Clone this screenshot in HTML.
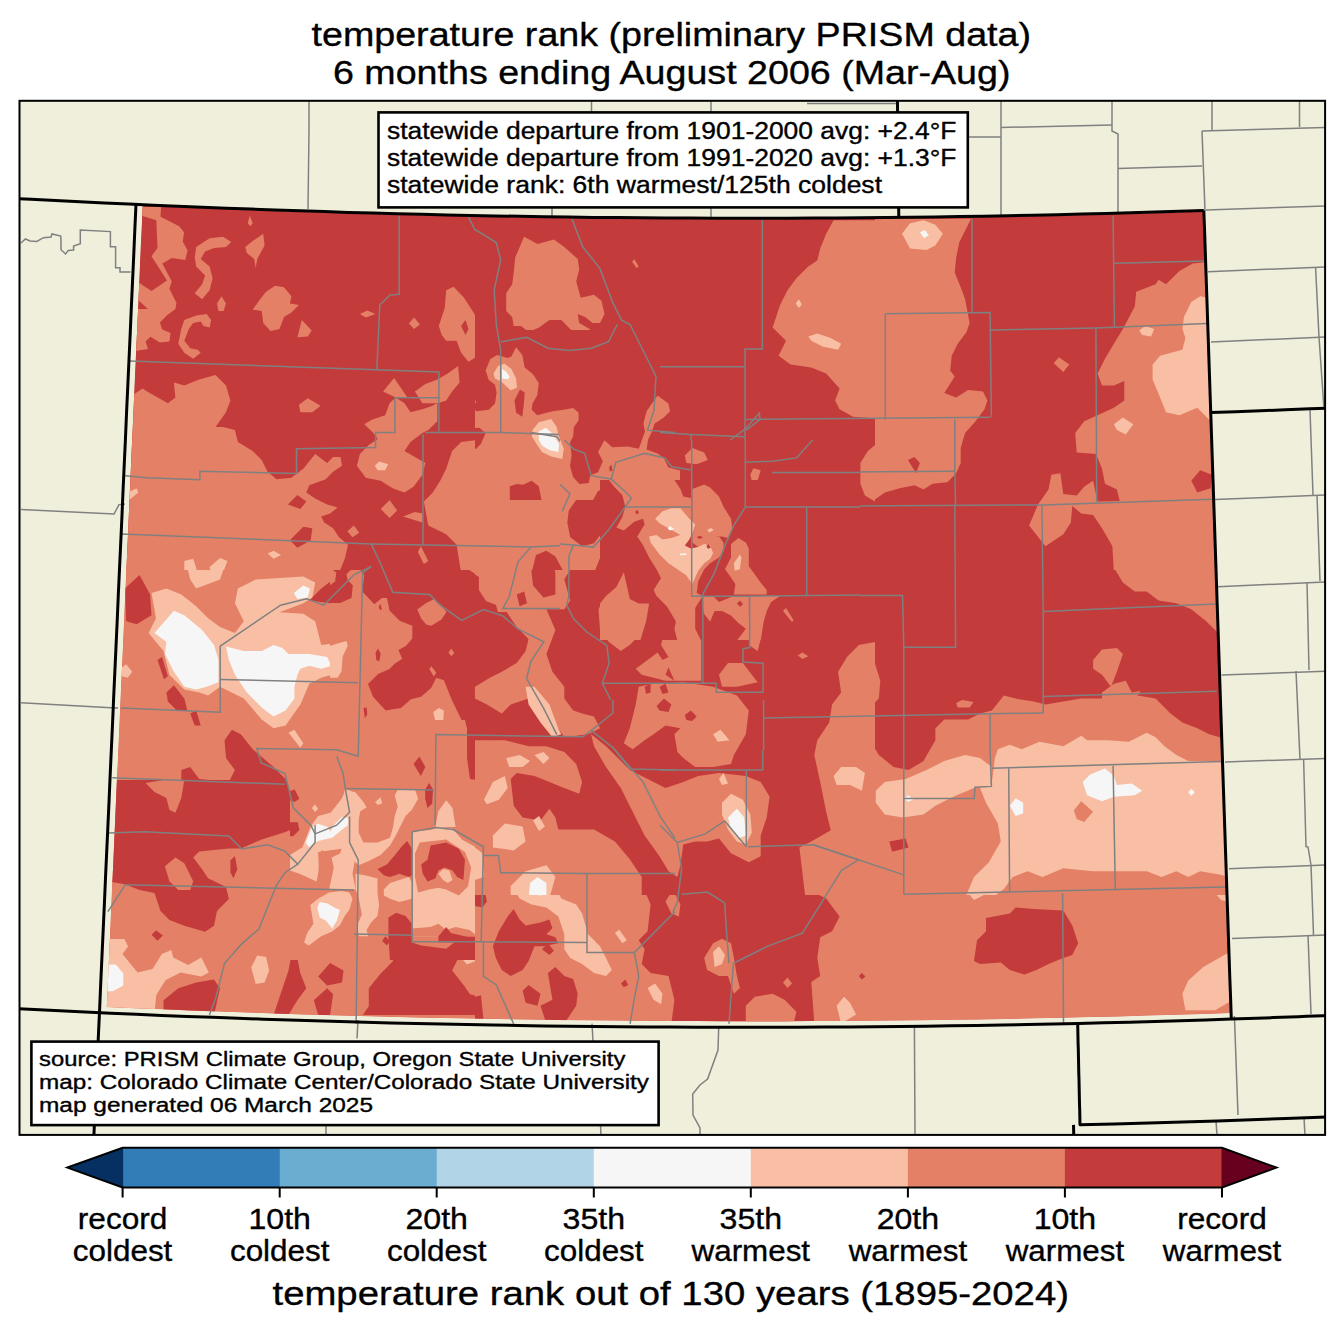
<!DOCTYPE html>
<html><head><meta charset="utf-8"><style>
html,body{margin:0;padding:0;background:#fff;width:1344px;height:1332px;overflow:hidden}
svg{display:block}
text{font-family:"Liberation Sans",sans-serif;fill:#000;stroke:#000;stroke-width:0.35px}
.t{font-size:33.6px}.b1{font-size:23px}.b2{font-size:20px}.tk{font-size:29.8px}
</style></head><body>
<svg width="1344" height="1332" viewBox="0 0 1344 1332">
<defs>
<clipPath id="fr"><rect x="19.5" y="100.8" width="1305.6" height="1034.1"/></clipPath>
<clipPath id="dp"><path d="M142.7 205.7 L169.2 206.9 L195.7 208 L222.2 209.1 L248.7 210.1 L275.3 211 L301.8 211.9 L328.3 212.8 L354.8 213.6 L381.4 214.3 L407.9 215 L434.4 215.6 L460.9 216.2 L487.5 216.8 L514 217.2 L540.5 217.7 L567.1 218.1 L593.6 218.4 L620.2 218.7 L646.7 218.9 L673.2 219.1 L699.8 219.2 L726.3 219.2 L752.8 219.2 L779.4 219.2 L805.9 219.1 L832.4 219 L859 218.8 L885.5 218.5 L912.1 218.2 L938.6 217.9 L965.1 217.5 L991.7 217 L1018.2 216.5 L1044.7 216 L1071.3 215.3 L1097.8 214.7 L1124.3 214 L1150.8 213.2 L1177.4 212.4 L1203.9 211.5 L1204.6 231.5 L1205.2 251.6 L1205.9 271.6 L1206.6 291.6 L1207.3 311.6 L1208 331.7 L1208.6 351.7 L1209.3 371.7 L1210 391.8 L1210.7 411.8 L1211.4 431.8 L1212 451.8 L1212.7 471.9 L1213.4 491.9 L1214.1 511.9 L1214.7 532 L1215.4 552 L1216.1 572 L1216.8 592.1 L1217.5 612.1 L1218.1 632.1 L1218.8 652.2 L1219.5 672.2 L1220.2 692.2 L1220.9 712.3 L1221.5 732.3 L1222.2 752.4 L1222.9 772.4 L1223.6 792.4 L1224.3 812.5 L1224.9 832.5 L1225.6 852.6 L1226.3 872.6 L1227 892.7 L1227.7 912.7 L1228.3 932.8 L1229 952.8 L1229.7 972.9 L1230.4 993 L1231 1013 L1203 1013.9 L1174.9 1014.8 L1146.7 1015.6 L1118.6 1016.4 L1090.5 1017.1 L1062.4 1017.7 L1034.3 1018.3 L1006.2 1018.9 L978.1 1019.4 L950 1019.8 L921.9 1020.2 L893.8 1020.5 L865.7 1020.7 L837.6 1020.9 L809.4 1021.1 L781.3 1021.2 L753.2 1021.2 L725.1 1021.2 L697 1021.1 L668.9 1021 L640.8 1020.8 L612.6 1020.6 L584.5 1020.3 L556.4 1020 L528.3 1019.6 L500.2 1019.1 L472.1 1018.6 L444 1018 L415.9 1017.4 L387.8 1016.7 L359.7 1016 L331.6 1015.2 L303.5 1014.4 L275.4 1013.5 L247.3 1012.5 L219.2 1011.5 L191.1 1010.4 L163 1009.3 L134.9 1008.2 L106.8 1006.9 L107.7 986.4 L108.7 965.8 L109.6 945.2 L110.5 924.7 L111.4 904.1 L112.3 883.6 L113.3 863 L114.2 842.4 L115.1 821.9 L116 801.3 L116.9 780.8 L117.9 760.2 L118.8 739.7 L119.7 719.2 L120.6 698.6 L121.5 678.1 L122.5 657.5 L123.4 637 L124.3 616.4 L125.2 595.9 L126.1 575.4 L127.1 554.8 L128 534.3 L128.9 513.8 L129.8 493.2 L130.7 472.7 L131.6 452.1 L132.6 431.6 L133.5 411.1 L134.4 390.5 L135.3 370 L136.2 349.5 L137.2 328.9 L138.1 308.4 L139 287.9 L139.9 267.3 L140.8 246.8 L141.8 226.3 L142.7 205.7 Z"/></clipPath><clipPath id="c_T1"><rect x="90" y="190" width="385" height="380"/></clipPath><clipPath id="c_T2"><rect x="475" y="190" width="400" height="140"/><rect x="680" y="330" width="195" height="170"/><rect x="475" y="500" width="400" height="70"/></clipPath><clipPath id="c_Z2a"><rect x="475" y="330" width="205" height="170"/></clipPath><clipPath id="c_T3"><rect x="875" y="190" width="385" height="380"/></clipPath><clipPath id="c_T4"><rect x="90" y="570" width="240" height="210"/><rect x="330" y="720" width="145" height="60"/></clipPath><clipPath id="c_T5"><rect x="475" y="570" width="400" height="325"/></clipPath><clipPath id="c_T6"><rect x="875" y="570" width="385" height="325"/></clipPath><clipPath id="c_B2"><rect x="475" y="895" width="400" height="140"/></clipPath><clipPath id="c_B3"><rect x="875" y="895" width="385" height="140"/></clipPath><clipPath id="c_B1"><rect x="90" y="780" width="200" height="255"/><rect x="290" y="960" width="185" height="75"/></clipPath><clipPath id="c_Z4"><rect x="290" y="780" width="185" height="180"/></clipPath><clipPath id="c_Z4b"><rect x="330" y="570" width="145" height="150"/></clipPath><clipPath id="c_Z5"><rect x="600" y="480" width="200" height="160"/></clipPath><clipPath id="cx"><path clip-rule="evenodd" d="M0 0H1344V1332H0Z M560 440H860V700H560Z"/></clipPath><clipPath id="ci"><path d="M560 440H860V700H560Z"/></clipPath>
</defs>
<rect x="19.5" y="100.8" width="1305.6" height="1034.1" fill="#efefdb"/>
<g clip-path="url(#dp)"><path fill="#c43b3c" d="M142.7 205.7 L169.2 206.9 L195.7 208 L222.2 209.1 L248.7 210.1 L275.3 211 L301.8 211.9 L328.3 212.8 L354.8 213.6 L381.4 214.3 L407.9 215 L434.4 215.6 L460.9 216.2 L487.5 216.8 L514 217.2 L540.5 217.7 L567.1 218.1 L593.6 218.4 L620.2 218.7 L646.7 218.9 L673.2 219.1 L699.8 219.2 L726.3 219.2 L752.8 219.2 L779.4 219.2 L805.9 219.1 L832.4 219 L859 218.8 L885.5 218.5 L912.1 218.2 L938.6 217.9 L965.1 217.5 L991.7 217 L1018.2 216.5 L1044.7 216 L1071.3 215.3 L1097.8 214.7 L1124.3 214 L1150.8 213.2 L1177.4 212.4 L1203.9 211.5 L1204.6 231.5 L1205.2 251.6 L1205.9 271.6 L1206.6 291.6 L1207.3 311.6 L1208 331.7 L1208.6 351.7 L1209.3 371.7 L1210 391.8 L1210.7 411.8 L1211.4 431.8 L1212 451.8 L1212.7 471.9 L1213.4 491.9 L1214.1 511.9 L1214.7 532 L1215.4 552 L1216.1 572 L1216.8 592.1 L1217.5 612.1 L1218.1 632.1 L1218.8 652.2 L1219.5 672.2 L1220.2 692.2 L1220.9 712.3 L1221.5 732.3 L1222.2 752.4 L1222.9 772.4 L1223.6 792.4 L1224.3 812.5 L1224.9 832.5 L1225.6 852.6 L1226.3 872.6 L1227 892.7 L1227.7 912.7 L1228.3 932.8 L1229 952.8 L1229.7 972.9 L1230.4 993 L1231 1013 L1203 1013.9 L1174.9 1014.8 L1146.7 1015.6 L1118.6 1016.4 L1090.5 1017.1 L1062.4 1017.7 L1034.3 1018.3 L1006.2 1018.9 L978.1 1019.4 L950 1019.8 L921.9 1020.2 L893.8 1020.5 L865.7 1020.7 L837.6 1020.9 L809.4 1021.1 L781.3 1021.2 L753.2 1021.2 L725.1 1021.2 L697 1021.1 L668.9 1021 L640.8 1020.8 L612.6 1020.6 L584.5 1020.3 L556.4 1020 L528.3 1019.6 L500.2 1019.1 L472.1 1018.6 L444 1018 L415.9 1017.4 L387.8 1016.7 L359.7 1016 L331.6 1015.2 L303.5 1014.4 L275.4 1013.5 L247.3 1012.5 L219.2 1011.5 L191.1 1010.4 L163 1009.3 L134.9 1008.2 L106.8 1006.9 L107.7 986.4 L108.7 965.8 L109.6 945.2 L110.5 924.7 L111.4 904.1 L112.3 883.6 L113.3 863 L114.2 842.4 L115.1 821.9 L116 801.3 L116.9 780.8 L117.9 760.2 L118.8 739.7 L119.7 719.2 L120.6 698.6 L121.5 678.1 L122.5 657.5 L123.4 637 L124.3 616.4 L125.2 595.9 L126.1 575.4 L127.1 554.8 L128 534.3 L128.9 513.8 L129.8 493.2 L130.7 472.7 L131.6 452.1 L132.6 431.6 L133.5 411.1 L134.4 390.5 L135.3 370 L136.2 349.5 L137.2 328.9 L138.1 308.4 L139 287.9 L139.9 267.3 L140.8 246.8 L141.8 226.3 L142.7 205.7 Z"/><g clip-path="url(#c_T1)"><rect x="90" y="190" width="385" height="380" fill="#c43b3c"/><path fill="#e48066" d="M141.7 206.9 L161.1 206.9 L160.5 216.7 L179.2 226.2 L184 232.2 L182.8 241.7 L187.6 250.4 L185.2 259.9 L171.8 258.1 L162.3 263.5 L171.8 281.6 L169.4 288.8 L176.5 303 L175.4 309 L167 315.2 L159.9 322.4 L162.3 329.5 L170.6 333.1 L169.4 341.4 L159.9 342.6 L150.4 336.7 L145.6 341.4 L148 348.9 L133.7 351.2 L133.7 309 L148 309 L133.7 295.9 L133.7 279.2 L151.5 291.1 L167 280.4 L151.5 256.3 L157.5 248 L156.3 220.3 L141.1 215.5 L133.7 212.9 Z"/><path fill="#e48066" d="M196.2 247.1 L209.6 238.2 L223 236.7 L231.3 242 L226 247.1 L214 248 L205.1 251.5 L200.7 259 L209.6 266.4 L212.6 278.3 L209.6 290.2 L202.1 299.2 L194.7 293.2 L202.1 284.3 L205.1 275.4 L196.2 266.4 L194.7 257.5 Z"/><path fill="#e48066" d="M245.3 247.1 L252.7 241.1 L263.2 233.7 L264.6 245.6 L257.2 259 L255.7 267.9 L254.2 259 L246.8 253 Z"/><path fill="#e48066" d="M247.7 223.3 L249.8 215.8 L252.7 223.3 L250.4 226.2 Z"/><path fill="#e48066" d="M184.3 320 L196.2 315.5 L206.6 314 L211.1 320 L209.6 327.4 L203.6 326 L200.7 321.5 L193.2 323 L188.8 328.9 L184.3 340.8 L190.2 348.3 L197.7 349.8 L200.7 352.7 L193.2 358.7 L184.3 352.7 L178.3 343.8 L181.3 328.9 Z"/><path fill="#e48066" d="M217 303.6 L221.5 296.2 L226 303.6 L223.6 311.1 L218.5 311.1 Z"/><path fill="#e48066" d="M252.7 309.6 L260.2 299.2 L266.1 291.7 L275.1 285.8 L284 287.3 L291.4 296.2 L289.9 303.6 L298.9 305.1 L291.4 312.6 L284 317 L279.5 328.9 L270.6 331 L263.2 323 L261.7 311.1 Z"/><path fill="#e48066" d="M297.4 337.3 L301.8 320 L311.7 330.4 L307.8 336.4 Z"/><path fill="#e48066" d="M359.9 314 L367.3 310.5 L375.4 314 L365.8 317.6 Z"/><path fill="#e48066" d="M438.8 326 L444.7 308.1 L446.2 290.2 L453.6 286.7 L464 297.7 L474.5 314 L480.4 328.9 L478.9 343.8 L476 357.2 L468.5 361.7 L461.1 352.7 L456.6 340.8 L446.2 340.8 L441.7 334.9 Z"/><path fill="#c43b3c" d="M461.1 326 L465.5 320 L468.5 328.9 L465.5 334.9 Z"/><path fill="#e48066" d="M409 323.6 L414 317.6 L420 324.5 L414 328.9 Z"/><path fill="#e48066" d="M124.8 400.4 L142.6 388.5 L147.1 391.4 L167.9 403.3 L175.4 397.4 L173.9 382.5 L184.3 385.5 L199.2 379.5 L215.5 375.1 L226 385.5 L230.4 400.4 L226 412.3 L215.5 427.1 L223 427.1 L234.9 430.1 L237.9 442 L252.7 451 L261.7 459.9 L267.6 471.8 L276.5 479.2 L291.4 477.7 L303.3 468.8 L315.2 453.9 L327.1 462.9 L333.1 456.9 L340.5 456.9 L342 465.8 L333.1 471.8 L325.7 479.2 L309.3 485.2 L306.3 492.6 L315.2 498.6 L327.1 504.5 L337.6 507.5 L330.1 513.5 L321.2 516.4 L324.2 522.4 L333.1 528.3 L339 537.3 L348 544.7 L345 558.1 L339 573 L118.8 573 Z"/><path fill="#c43b3c" d="M287.9 504.5 L297.4 495 L306.3 501.5 L300.4 509 Z"/><path fill="#c43b3c" d="M289.9 540.2 L303.3 526.8 L312.3 528.3 L310.8 540.2 L297.4 547.7 Z"/><path fill="#e48066" d="M364.3 424.2 L371.8 419.7 L385.2 415.2 L389.6 403.3 L395.6 397.4 L404.5 403.3 L410.5 412.3 L422.4 409.3 L431.3 406.3 L437.3 403.3 L437.3 421.2 L428.3 430.1 L422.4 433.1 L410.5 442 L404.5 451 L414.9 456.9 L425.4 462.9 L422.4 474.8 L413.5 486.7 L404.5 492.6 L392.6 488.2 L380.7 480.7 L365.8 477.7 L356.9 465.8 L359.9 453.9 L368.8 445 L377.7 439 L373.3 433.1 Z"/><path fill="#e48066" d="M383.1 391.4 L394.1 378 L407.5 397.4 L395.6 397.4 Z"/><path fill="#e48066" d="M414.9 391.4 L425.4 384 L437.3 379.5 L447.7 373.6 L458.1 366.1 L459.6 382.5 L452.1 391.4 L446.2 400.4 L437.3 403.3 L422.4 403.3 Z"/><path fill="#e48066" d="M452.1 451 L461.1 442 L484.9 439 L495 433.1 L495 573 L461.1 573 L456.6 544.7 L446.2 534.3 L428.3 525.4 L423.9 501.5 L432.8 492.6 L440.2 480.7 L446.2 468.8 Z"/><path fill="#f8bfa4" d="M127.7 492.6 L136.7 488.2 L138.2 492.6 L129.2 500.1 Z"/><path fill="#f8bfa4" d="M267.6 553.6 L273.6 550.7 L281 555.1 L273.6 558.7 Z"/><path fill="#f8bfa4" d="M184.3 561.1 L193.2 558.7 L197.7 573 L184.3 573 Z"/><path fill="#f8bfa4" d="M209.6 567 L220 558.1 L227.4 561.1 L223 573 L211.1 573 Z"/><path fill="#f8bfa4" d="M374.8 465.8 L379.2 461.4 L388.2 464.3 L385.2 470.3 L377.7 470.3 Z"/><path fill="#e48066" d="M298.9 404.8 L307.8 398.3 L320.6 405.7 L312.3 412.3 L300.4 412.3 Z"/><path fill="#e48066" d="M347.4 531.3 L353.9 525.4 L359.3 532.8 L352.4 537.3 Z"/><path fill="#e48066" d="M380.7 509 L389.6 500.1 L397.1 510.5 L389.6 517.9 Z"/><path fill="#e48066" d="M403 516.4 L414.9 512 L422.4 513.5 L422.4 522.4 Z"/><path fill="#e48066" d="M417.9 552.1 L420.9 546.2 L428.3 561.1 L423.9 564 Z"/></g><g clip-path="url(#c_T2)"><rect x="475" y="190" width="400" height="140" fill="#c43b3c"/><rect x="680" y="330" width="195" height="170" fill="#c43b3c"/><rect x="475" y="500" width="400" height="70" fill="#c43b3c"/><path fill="#e48066" d="M515.2 257.5 L524.1 236.7 L537.5 244.1 L553.9 239.6 L564.3 247.1 L577.7 259 L579.2 269.4 L576.2 281.3 L580.7 297.7 L594 294.7 L601.5 300.7 L604.5 314 L600 323 L592.6 323 L585.1 317 L577.7 314 L579.2 323 L589.6 328.9 L594 337.9 L595.5 346.8 L589.6 354.2 L583.6 349.8 L577.7 337.9 L570.2 328.9 L561.3 320 L549.4 320 L539 327.4 L528.6 331.9 L521.1 326 L513.7 326 L512.2 317 L506.2 311.1 L506.2 293.2 L512.2 284.3 L513.7 272.4 Z"/><path fill="#e48066" d="M833.6 220.3 L875 220.3 L875 418.2 L853 416.7 L839.6 409.3 L835.1 400.4 L839.6 388.5 L826.2 373.6 L811.3 367.6 L790.5 364.6 L778.6 355.7 L786 340.8 L772.6 327.4 L777.1 314 L780.1 305.1 L787.5 290.2 L796.4 278.3 L808.3 266.4 L817.3 260.5 L820.2 248.6 L826.2 233.7 Z"/><path fill="#f8bfa4" d="M808.3 336.4 L817.3 333.4 L830.7 337.9 L841.1 343.8 L838.1 349.8 L823.2 346.8 L811.3 340.8 Z"/><path fill="#f8bfa4" d="M795.8 303.6 L798.8 299.2 L801.8 304.5 L798.8 308.1 Z"/><path fill="#e48066" d="M875 445 L867.9 451 L860.4 462.9 L860.4 483.7 L864.9 495.6 L875 501.5 Z"/><path fill="#e48066" d="M632.1 262 L634.2 259 L638.7 266.4 L636.6 267.9 Z"/><path fill="#e48066" d="M684.8 455.4 L692.3 448 L704.2 452.4 L707.7 459.9 L696.7 464.3 L686.3 462.9 Z"/><path fill="#e48066" d="M750.3 474.8 L753.3 468.2 L760.7 470.3 L757.1 482.2 L751.8 480.7 Z"/><path fill="#e48066" d="M469 500.1 L680.4 500.1 L680.4 489.6 L689.3 480.7 L695.2 485.2 L710.1 485.2 L722 501.5 L731 519.4 L733.9 531.3 L728 541.7 L722 552.1 L716.1 573 L469 573 Z"/><path fill="#c43b3c" d="M568.8 510.5 L579.2 495.6 L600 489.6 L614.9 488.2 L622.3 498.6 L620.8 510.5 L614.9 522.4 L603 531.3 L594 543.2 L582.1 546.2 L570.2 537.3 L567.3 522.4 Z"/><path fill="#c43b3c" d="M531.5 573 L536 555.1 L546.4 550.7 L555.4 556.6 L564.3 573 Z"/><path fill="#c43b3c" d="M594 573 L606 543.2 L623.8 528.3 L641.7 525.4 L653.6 531.3 L656.5 546.2 L650.6 558.1 L647.6 573 Z"/><path fill="#f8bfa4" d="M653.6 525.4 L659.5 510.5 L674.4 497.1 L683.3 510.5 L693.8 522.4 L695.2 540.2 L689.3 552.1 L683.3 561.1 L668.5 561.1 L653.6 552.1 L647.6 537.3 Z"/><path fill="#f7f6f6" d="M667.9 528.3 L671.4 525.4 L675 529.8 L670.8 531.3 Z"/><path fill="#f8bfa4" d="M729.5 552.1 L736.9 540.2 L744.3 541.7 L750.3 555.1 L748.8 573 L731 573 Z"/></g><g clip-path="url(#c_Z2a)"><rect x="475" y="330" width="205" height="170" fill="#c43b3c"/><path fill="#e48066" d="M470 430 L470 501.9 L680 501.9 L680 470.6 L668.4 467.5 L663.8 458.1 L657.5 453.4 L646.6 449.5 L648.1 439.4 L652 431.6 L654.4 423.8 L663.8 417.5 L670 411.2 L668.4 403.4 L657.5 395.6 L646.6 411.2 L643.4 423.8 L645 431.6 L638.8 448.8 L627.8 446.4 L612.2 447.2 L604.4 440.2 L598.1 451.9 L602.8 461.2 L598.1 472.2 L590.3 475.3 L588.8 483.1 L579.4 483.9 L573.1 476.9 L570 465.9 L571.6 455 L570 442.5 L573.1 436.2 L573.9 426.9 L578.6 420.6 L578.6 412.8 L573.1 408.1 L563.8 409.7 L552.8 411.2 L543.4 413.6 L537.2 415.2 L531.7 409.7 L532.5 403.4 L537.2 395.6 L538.8 383.1 L532.5 373.8 L524.7 367.5 L522.3 355 L516.1 347.2 L511.4 356.6 L507.5 358.1 L497.3 355 L490.3 358.9 L485.6 370.6 L488.8 380 L495 384.7 L496.6 392.5 L495 403.4 L488.8 409.7 L476.2 411.2 L473.1 406.6 L476.2 401.9 L473.1 397.2 L470 398.8 Z"/><path fill="#c43b3c" d="M468.4 428.4 L479.4 427.7 L485.6 433.1 L480.9 444.1 L476.2 448.8 L468.4 448.8 Z"/><path fill="#c43b3c" d="M514.5 400.3 L520 389.4 L524.7 392.5 L523.9 403.4 L522.3 416.7 L516.1 412.8 Z"/><path fill="#c43b3c" d="M509.8 486.2 L516.9 483.9 L523.1 484.7 L531.7 480.8 L538.8 486.2 L541.9 501.9 L509.8 501.9 Z"/><path fill="#c43b3c" d="M591.9 501.9 L598.1 490.9 L607.5 487.8 L620 490.9 L623.1 501.9 Z"/><path fill="#c43b3c" d="M609.1 467.5 L611.4 464.4 L612.5 470.6 L609.8 471.4 Z"/><path fill="#f8bfa4" d="M493.4 373.8 L498.1 365.9 L504.4 363.6 L511.4 369.1 L516.1 378.4 L516.9 387.8 L510.6 390.2 L501.2 381.6 L495 378.4 Z"/><path fill="#f7f6f6" d="M502 369.1 L505.9 371.4 L509.8 376.9 L507.5 379.2 L502 378.4 Z"/><path fill="#f8bfa4" d="M532.5 430 L538.8 422.2 L551.2 419.1 L556.7 426.9 L558.3 434.7 L563.8 448.8 L562.2 458.9 L551.2 456.6 L541.9 451.9 L535.6 442.5 L531.7 436.2 Z"/><path fill="#f7f6f6" d="M538.8 431.6 L545.8 427.7 L552.8 433.9 L559.1 444.1 L558.3 451.9 L549.7 450.3 L541.9 445.6 L538.8 439.4 Z"/></g><g clip-path="url(#c_T3)"><rect x="875" y="190" width="385" height="380" fill="#c43b3c"/><path fill="#e48066" d="M849 218.8 L971.1 218.8 L966.6 227.7 L959.2 242.6 L956.2 257.5 L954.7 272.4 L960.7 287.3 L965.1 299.2 L969.6 323 L966.6 331.9 L957.7 343.8 L951.7 355.7 L950.2 370.6 L954.7 376.5 L944.3 392.9 L956.2 397.4 L968.1 389.9 L983 391.4 L987.4 400.4 L984.5 409.3 L975.5 421.2 L965.1 433.1 L960.7 448 L960.7 462.9 L956.2 473.3 L947.3 482.2 L932.4 483.7 L923.5 489.6 L914.5 485.2 L899.6 488.2 L884.8 492.6 L874.3 500.1 L863.9 492.6 L859.5 471.8 L861 453.9 L866.9 445 L874.3 430.1 L866.9 421.2 L849 418.2 Z"/><path fill="#c43b3c" d="M908 459.9 L914.5 456.9 L919.9 462.9 L916 473.3 Z"/><path fill="#f8bfa4" d="M902 233.7 L910.1 223.3 L923.5 220.3 L935.4 224.8 L942.8 233.7 L935.4 245.6 L926.4 250.1 L910.1 248.6 Z"/><path fill="#f7f6f6" d="M919.9 232.2 L924.9 230.1 L928.8 235.2 L924 238.2 Z"/><path fill="#e48066" d="M1122.9 328.9 L1134.8 306.6 L1136.2 291.7 L1155.6 284.3 L1158.6 279.8 L1166 284.3 L1179.4 270.9 L1192.8 263.5 L1207.7 262 L1221.1 262 L1227 498.6 L1119.9 501.5 L1116.9 489.6 L1105 483.7 L1102 468.8 L1096.1 453.9 L1076.7 452.4 L1075.2 433.1 L1084.2 421.2 L1097.6 415.2 L1113.9 407.8 L1124.3 400.4 L1124.3 381 L1113.9 385.5 L1102 385.5 L1097.6 373.6 L1105 358.7 L1113.9 343.8 Z"/><path fill="#c43b3c" d="M1191.3 480.7 L1200.2 470.3 L1212.1 474.8 L1210.7 488.2 L1197.3 492.6 Z"/><path fill="#f8bfa4" d="M1183.9 317 L1191.3 302.1 L1200.2 296.2 L1207.7 297.7 L1221.1 297.7 L1221.1 421.2 L1210.7 421.2 L1197.3 407.8 L1179.4 415.2 L1166 412.3 L1160.1 397.4 L1152.6 379.5 L1152.6 364.6 L1160.1 355.7 L1182.4 349.8 L1185.4 337.9 L1182.4 328.9 Z"/><path fill="#f8bfa4" d="M1139.2 330.4 L1145.2 326 L1154.1 328.9 L1151.1 336.4 L1142.2 334.9 Z"/><path fill="#f8bfa4" d="M1113.9 424.2 L1122.9 417.6 L1133.3 424.2 L1125.8 434.6 L1116.9 430.1 Z"/><path fill="#e48066" d="M1053.8 363.2 L1058.9 357.2 L1069.3 364.6 L1063.3 372.1 Z"/><path fill="#e48066" d="M1029.1 525.4 L1038 504.5 L1048.5 489.6 L1051.4 474.8 L1060.4 473.3 L1063.3 494.1 L1076.7 495.6 L1084.2 486.7 L1093.1 480.7 L1097.6 501.5 L1227 498.6 L1227 573 L1113.9 573 L1112.4 546.2 L1102 528.3 L1093.1 514.9 L1081.2 513.5 L1072.3 506 L1070.8 522.4 L1063.3 534.3 L1045.5 546.2 Z"/></g><g clip-path="url(#c_T4)"><rect x="90" y="570" width="240" height="210" fill="#e48066"/><rect x="330" y="720" width="145" height="60" fill="#e48066"/><path fill="#c43b3c" d="M324.2 520 L425.4 520 L425.4 537.9 L452.1 545.3 L449.2 564.6 L452.1 591.4 L467 609.3 L495 606.3 L495 656.9 L478.9 665.8 L473 685.2 L481.9 695.6 L495 704.5 L495 728.3 L484.9 734.3 L484.9 770 L478.9 780.4 L470 778.9 L467 758.1 L467 728.3 L462.6 710.5 L455.1 695.6 L452.1 674.8 L441.7 659.9 L431.3 653.9 L419.4 645 L413.5 627.1 L410.5 613.8 L392.6 606.3 L380.7 594.4 L362.9 573.6 L351 588.5 L330.1 603.3 L309.3 600.4 L321.2 588.5 L333.1 579.5 L336.1 564.6 L330.1 552.7 L321.2 537.9 Z"/><path fill="#e48066" d="M417.9 612.3 L426.8 601.8 L437.3 600.4 L443.2 609.3 L440.2 621.2 L428.3 624.2 L419.4 621.2 Z"/><path fill="#c43b3c" d="M368.8 680.7 L380.7 670.3 L392.6 661.4 L404.5 659.9 L419.4 645 L431.3 653.9 L435.8 671.8 L429.8 688.2 L416.4 695.6 L404.5 706 L388.2 710.5 L370.3 695.6 Z"/><path fill="#c43b3c" d="M376.2 653.9 L379.2 648 L382.8 655.4 L379.2 661.4 Z"/><path fill="#c43b3c" d="M124.8 588.5 L139.6 575.1 L150.1 594.4 L151.5 615.2 L136.7 624.2 L126.2 621.2 Z"/><path fill="#c43b3c" d="M166.4 692.6 L173.9 685.2 L184.3 698.6 L187.3 710.5 L176.8 710.5 L167.9 701.5 Z"/><path fill="#c43b3c" d="M190.2 713.5 L196.2 710.5 L200.7 725.4 L194.7 725.4 Z"/><path fill="#c43b3c" d="M157.5 659.9 L162 656.9 L167.9 676.2 L164 679.2 Z"/><path fill="#c43b3c" d="M224.5 740.2 L231.9 729.8 L240.8 734.3 L252.7 749.2 L273.6 767 L285.5 778.9 L297.4 787.9 L181.3 787.9 L181.3 770 L190.2 767 L199.2 778.9 L228.9 781.9 L234.9 770 L226 758.1 Z"/><path fill="#c43b3c" d="M413.5 764 L419.4 756.6 L425.4 767 L420.9 776 Z"/><path fill="#f8bfa4" d="M185.8 561.7 L196.2 560.2 L208.1 570.6 L220 558.7 L226 561.7 L220 579.5 L208.1 584 L196.2 588.5 L190.2 579.5 Z"/><path fill="#f8bfa4" d="M148.6 633.1 L156 618.2 L151.5 592.9 L166.4 588.5 L181.3 594.4 L196.2 606.3 L208.1 618.2 L220 627.1 L234.9 633.1 L243.8 621.2 L234.9 603.3 L237.9 588.5 L255.7 579.5 L279.5 578 L303.3 576.5 L315.2 582.5 L312.3 597.4 L303.3 603.3 L279.5 612.3 L303.3 613.8 L315.2 621.2 L321.2 645 L345 642 L348 656.9 L342 671.8 L321.2 677.7 L309.3 683.7 L300.4 704.5 L285.5 725.4 L273.6 728.3 L261.7 719.4 L243.8 698.6 L220 686.7 L208.1 695.6 L199.2 692.6 L184.3 689.6 L169.4 674.8 L163.5 651 Z"/><path fill="#f8bfa4" d="M288.5 732.8 L294.4 729.8 L303.3 743.2 L300.4 747.7 Z"/><path fill="#f8bfa4" d="M432.8 713.5 L437.3 707.5 L443.8 713.5 L438.8 719.4 Z"/><path fill="#f8bfa4" d="M120.3 668.8 L126.2 664.3 L132.2 671.8 L127.7 677.7 L121.8 676.2 Z"/><path fill="#f7f6f6" d="M154.5 633.1 L173.9 610.8 L184.3 615.2 L202.1 630.1 L214 645 L218.5 659.9 L218.5 682.2 L206.6 686.7 L196.2 689.6 L184.3 686.7 L173.9 671.8 L164.9 653.9 L166.4 642 Z"/><path fill="#f7f6f6" d="M226 646.5 L243.8 651 L261.7 651 L273.6 645 L282.5 648 L288.5 653.9 L309.3 653.9 L327.1 656.9 L331.6 665.8 L321.2 668.8 L309.3 665.8 L300.4 668.8 L297.4 674.8 L294.4 686.7 L294.4 698.6 L285.5 710.5 L273.6 716.4 L261.7 707.5 L246.8 692.6 L234.9 674.8 L228.9 659.9 Z"/><path fill="#f7f6f6" d="M293.8 592.9 L303.3 585.5 L309.9 588.5 L307.8 597.4 L297.4 598.9 Z"/></g><g clip-path="url(#c_T5)"><rect x="475" y="570" width="400" height="325" fill="#c43b3c"/><path fill="#e48066" d="M448.2 545.3 L530.1 546.8 L573.2 545.3 L577.7 549.8 L573.2 564.6 L564.3 579.5 L570.2 600.4 L564.3 609.3 L546.4 609.3 L504.8 612 L497.9 612 L496.1 605.1 L486 601 L478.9 589.9 L478.9 577.1 L467.9 570 L448.2 567.6 Z"/><path fill="#c43b3c" d="M530.1 558.7 L540.5 549.8 L552.4 552.7 L555.4 573.6 L555.4 594.4 L543.5 597.4 L533 585.5 Z"/><path fill="#c43b3c" d="M516.7 594.4 L524.1 591.4 L527.1 603.3 L519.6 606.3 Z"/><path fill="#e48066" d="M504.8 609.3 L546.4 609.3 L555.4 630.1 L546.4 653.9 L552.4 671.8 L564.3 686.7 L564.3 698.6 L573.2 710.5 L582.1 713.5 L594 716.4 L600 728.3 L588.1 734.3 L564.3 737.3 L558.3 728.3 L549.4 713.5 L540.5 704.5 L528.6 698.6 L510.7 704.5 L501.8 713.5 L486.9 704.5 L475 698.6 L475 686.7 L489.9 677.7 L501.8 671.8 L516.7 662.9 L525.6 651 L528.6 639 L516.7 627.1 Z"/><path fill="#f8bfa4" d="M525.6 686.7 L534.5 686.7 L549.4 704.5 L558.3 728.3 L561.3 734.3 L552.4 737.3 L540.5 722.4 L528.6 704.5 Z"/><path fill="#e48066" d="M475 740.2 L504.8 740.2 L528.6 746.2 L546.4 746.2 L564.3 752.1 L576.2 764 L582.1 781.9 L579.2 793.8 L564.3 787.9 L549.4 781.9 L534.5 776 L516.7 773 L510.7 778.9 L513.7 805.7 L522.6 817.6 L540.5 820.6 L549.4 808.7 L555.4 817.6 L558.3 829.5 L594 829.5 L614.9 841.4 L629.8 859.3 L641.7 877.1 L641.7 898 L475 898 Z"/><path fill="#f8bfa4" d="M506.2 758.1 L519.6 755.1 L530.1 761.1 L522.6 767 L509.2 767 Z"/><path fill="#f8bfa4" d="M483.9 799.8 L492.9 781.9 L504.8 776 L507.7 787.9 L498.8 799.8 L486.9 804.2 Z"/><path fill="#f8bfa4" d="M492.9 835.5 L504.8 823.6 L522.6 826.5 L525.6 841.4 L513.7 850.4 L492.9 847.4 Z"/><path fill="#f8bfa4" d="M510.7 886.1 L525.6 871.2 L546.4 865.2 L555.4 877.1 L549.4 898 L510.7 898 Z"/><path fill="#f8bfa4" d="M534.5 755.1 L543.5 752.1 L549.4 758.1 L543.5 764 Z"/><path fill="#f8bfa4" d="M533 820.6 L539 816.1 L544.9 826.5 L539 831 Z"/><path fill="#f8bfa4" d="M475 847.4 L482.4 853.3 L483.9 877.1 L475 880.1 Z"/><path fill="#f7f6f6" d="M530.1 883.1 L537.5 877.1 L546.4 883.1 L546.4 898 L528.6 898 Z"/><path fill="#e48066" d="M598.5 609.3 L606 594.4 L616.4 588.5 L620.8 573.6 L626.8 579.5 L629.8 597.4 L641.7 603.3 L649.1 603.3 L644.6 621.2 L638.7 636.1 L629.8 645 L620.8 651 L608.9 642 L600 630.1 Z"/><path fill="#e48066" d="M635.7 520 L695.2 520 L695.2 579.5 L683.3 588.5 L692.3 603.3 L701.2 624.2 L701.2 680.7 L665.5 680.7 L641.7 674.8 L635.7 668.8 L647.6 659.9 L659.5 651 L662.5 639 L677.4 636.1 L683.3 627.1 L668.5 609.3 L656.5 594.4 L653.6 573.6 L644.6 549.8 L638.7 534.9 Z"/><path fill="#f8bfa4" d="M647.6 537.9 L665.5 528.9 L683.3 520 L692.3 520 L692.3 549.8 L710.1 546.8 L707.1 561.7 L695.2 573.6 L683.3 567.6 L671.4 561.7 L659.5 552.7 Z"/><path fill="#c43b3c" d="M665.5 674.8 L668.5 667.3 L674.4 680.7 Z"/><path fill="#c43b3c" d="M656.5 651 L661 645 L668.5 656.9 L662.5 659.9 Z"/><path fill="#e48066" d="M701.2 597.4 L713.1 585.5 L725 555.7 L736.9 537.9 L748.8 540.8 L751.8 564.6 L763.7 591.4 L772.6 594.4 L701.2 595.9 Z"/><path fill="#f8bfa4" d="M733.9 564.6 L738.4 554.2 L741.4 561.7 L736.9 570.6 Z"/><path fill="#e48066" d="M707.1 606.3 L719 598.9 L742.9 600.4 L736.9 615.2 L713.1 618.2 Z"/><path fill="#e48066" d="M719 674.8 L728 662.9 L742.9 662.9 L751.8 674.8 L757.7 682.2 L736.9 686.7 L722 686.7 Z"/><path fill="#e48066" d="M757.7 600.4 L769.6 597.4 L768.2 615.2 L760.7 639 L757.7 651 L748.8 645 Z"/><path fill="#e48066" d="M784.5 609.3 L787.5 606.3 L793.5 619.7 L790.5 621.2 Z"/><path fill="#e48066" d="M797.9 655.4 L802.4 652.4 L808.3 656.3 L802.4 659 Z"/><path fill="#e48066" d="M638.7 686.7 L653.6 683.7 L683.3 682.2 L713.1 686.7 L736.9 695.6 L748.8 710.5 L745.8 734.3 L733.9 755.1 L731 764 L713.1 767 L695.2 767 L683.3 758.1 L677.4 752.1 L674.4 734.3 L680.4 728.3 L665.5 725.4 L653.6 734.3 L644.6 740.2 L632.7 749.2 L623.8 743.2 L629.8 728.3 L635.7 704.5 Z"/><path fill="#c43b3c" d="M656.5 706 L664 698.6 L671.4 704.5 L668.5 712 L659.5 710.5 Z"/><path fill="#c43b3c" d="M684.8 714.9 L690.8 710.5 L696.7 716.4 L692.3 720.9 L686.3 720 Z"/><path fill="#c43b3c" d="M644.6 686.7 L650.6 683.7 L650.6 692.6 L646.1 694.1 Z"/><path fill="#c43b3c" d="M659.5 686.7 L665.5 683.7 L668.5 692.6 L662.5 694.1 Z"/><path fill="#f8bfa4" d="M713.1 734.3 L720.5 729.8 L729.5 740.2 L717.6 741.7 Z"/><path fill="#e48066" d="M591.1 734.3 L606 746.2 L617.9 758.1 L629.8 770 L641.7 776 L653.6 781.9 L665.5 787.9 L683.3 781.9 L698.2 776 L719 773 L745.8 776 L760.7 781.9 L769.6 796.8 L766.7 817.6 L760.7 835.5 L760.7 856.3 L748.8 862.3 L731 853.3 L719 838.5 L707.1 841.4 L695.2 841.4 L683.3 844.4 L680.4 865.2 L677.4 877.1 L668.5 871.2 L659.5 856.3 L644.6 835.5 L632.7 811.7 L620.8 787.9 L606 767 L594 746.2 Z"/><path fill="#f8bfa4" d="M722 802.7 L731 793.8 L742.9 799.8 L750.3 814.6 L751.8 832.5 L745.8 844.4 L736.9 841.4 L728 829.5 L722 814.6 Z"/><path fill="#f7f6f6" d="M728 817.6 L736.9 808.7 L744.3 817.6 L745.8 835.5 L738.4 838.5 L731 829.5 Z"/><path fill="#f8bfa4" d="M719 778.9 L723.5 773 L728 783.4 L722 784.9 Z"/><path fill="#e48066" d="M838.1 671.8 L847 656.9 L858.9 645 L875 642 L875 859.3 L858.9 853.3 L844 847.4 L832.1 835.5 L826.2 811.7 L820.2 781.9 L814.3 755.1 L817.3 740.2 L829.2 722.4 L832.1 704.5 L841.1 692.6 Z"/><path fill="#f8bfa4" d="M833.6 776 L841.1 767 L856 767 L864.9 773 L861.9 790.8 L850 784.9 L836.6 784.9 Z"/><path fill="#e48066" d="M799.4 847.4 L811.3 841.4 L832.1 829.5 L875 847.4 L875 898 L805.4 898 Z"/></g><g clip-path="url(#c_T6)"><rect x="875" y="570" width="385" height="325" fill="#c43b3c"/><path fill="#e48066" d="M1030.6 520 L1075.2 520 L1063.3 537.9 L1048.5 546.8 L1033.6 534.9 Z"/><path fill="#e48066" d="M1096.1 520 L1230 520 L1230 636.1 L1218.1 633.1 L1206.2 621.2 L1191.3 609.3 L1176.4 603.3 L1158.6 600.4 L1146.7 591.4 L1134.8 591.4 L1122.9 582.5 L1113.9 567.6 L1111 549.8 L1102 534.9 Z"/><path fill="#e48066" d="M855 645 L869.9 643.5 L872.9 656.9 L880.3 680.7 L878.8 698.6 L866.9 710.5 L855 716.4 Z"/><path fill="#e48066" d="M1093.1 659.9 L1102 649.5 L1116.9 648 L1122.9 653.9 L1116.9 671.8 L1111 686.7 L1102 674.8 L1093.1 668.8 Z"/><path fill="#e48066" d="M1102 692.6 L1113.9 683.7 L1125.8 680.7 L1131.8 692.6 L1140.7 691.1 L1134.8 698.6 L1102 701.5 Z"/><path fill="#e48066" d="M956.2 703 L962.1 700.1 L973.5 702.1 L969.6 707.5 L957.7 707.5 Z"/><path fill="#e48066" d="M855 728.3 L866.9 734.3 L878.8 755.1 L893.7 767 L908.6 770 L923.5 761.1 L935.4 740.2 L935.4 728.3 L944.3 719.4 L968.1 719.4 L980 713.5 L991.9 710.5 L1003.8 695.6 L1015.7 698.6 L1033.6 701.5 L1045.5 704.5 L1063.3 701.5 L1081.2 698.6 L1102 698.6 L1137.7 695.6 L1155.6 698.6 L1170.5 713.5 L1182.4 722.4 L1197.3 728.3 L1209.2 734.3 L1230 740.2 L1230 898 L855 898 Z"/><path fill="#f8bfa4" d="M994.9 758.1 L997.9 749.2 L1009.8 744.7 L1021.7 749.2 L1039.5 741.7 L1063.3 746.2 L1081.2 735.8 L1087.1 740.2 L1108 740.2 L1128.8 741.7 L1146.7 732.8 L1155.6 737.3 L1164.5 746.2 L1176.4 755.1 L1188.3 761.1 L1212.1 761.1 L1230 764 L1230 877.1 L1218.1 874.2 L1200.2 871.2 L1188.3 877.1 L1176.4 871.2 L1161.5 877.1 L1146.7 871.2 L1122.9 871.2 L1093.1 871.2 L1063.3 868.2 L1042.5 877.1 L1027.6 871.2 L1012.7 877.1 L1003.8 889 L991.9 898 L965.1 898 L974 877.1 L988.9 862.3 L1000.8 841.4 L997.9 823.6 L986 802.7 L980 787.9 L991.9 781.9 Z"/><path fill="#f8bfa4" d="M875.8 790.8 L884.8 781.9 L905.6 778.9 L926.4 770 L944.3 761.1 L965.1 755.1 L980 758.1 L991.9 767 L990.4 784.9 L974 787.9 L953.2 796.8 L935.4 805.7 L923.5 814.6 L902.6 817.6 L884.8 814.6 L875.8 802.7 Z"/><path fill="#f8bfa4" d="M855 770 L862.4 768.5 L865.4 778.9 L861 789.3 L855 787.9 Z"/><path fill="#f7f6f6" d="M1082.7 781.9 L1090.1 774.5 L1105 768.5 L1113.9 776 L1116.9 784.9 L1131.8 783.4 L1142.2 790.8 L1134.8 795.3 L1113.9 796.8 L1102 801.2 L1087.1 795.3 Z"/><path fill="#f7f6f6" d="M1009.8 805.7 L1015.7 798.3 L1023.2 802.7 L1023.2 813.2 L1015.7 816.1 Z"/><path fill="#f7f6f6" d="M1188.3 792.3 L1191.3 788.8 L1194.9 792.3 L1191.3 795.9 Z"/><path fill="#f7f6f6" d="M904.1 798.3 L908.6 795.3 L913 799.8 L908 801.8 Z"/><path fill="#e48066" d="M1073.8 810.2 L1081.2 801.2 L1093.1 811.7 L1084.2 822.1 L1076.7 819.1 Z"/><path fill="#c43b3c" d="M889.2 841.4 L905.6 838.5 L908.6 847.4 L892.2 851.8 Z"/></g><g clip-path="url(#c_B2)"><rect x="475" y="895" width="400" height="140" fill="#e48066"/><path fill="#c43b3c" d="M614.9 845 L683.3 845 L754.8 845 L760.7 856.9 L769.6 853.9 L787.5 848 L808.3 848 L805.4 871.8 L814.3 892.6 L826.2 898.6 L839.6 916.4 L832.1 931.3 L820.2 937.3 L817.3 958.1 L820.2 976 L811.3 981.9 L814.3 1023.6 L671.4 1023.6 L674.4 999.8 L668.5 976 L650.6 973 L641.7 964 L644.6 949.2 L638.7 940.2 L647.6 931.3 L650.6 904.5 L641.7 883.7 L635.7 862.9 Z"/><path fill="#e48066" d="M704.2 958.1 L713.1 943.2 L722 938.8 L731 943.2 L733.9 958.1 L736.9 976 L739.9 987.9 L733.9 993.8 L728 976 L719 976 L707.1 970 Z"/><path fill="#f8bfa4" d="M713.1 952.1 L719 946.2 L725 955.1 L722 964 L714.6 967 Z"/><path fill="#e48066" d="M745.8 1005.7 L754.8 996.8 L772.6 993.8 L784.5 999.8 L796.4 1011.7 L793.5 1023.6 L745.8 1023.6 Z"/><path fill="#e48066" d="M783 982.5 L787.5 977.4 L792 983.4 L787.5 987.9 Z"/><path fill="#e48066" d="M665.5 901.5 L672.9 889.6 L680.4 904.5 L678.9 916.4 L671.4 913.5 Z"/><path fill="#e48066" d="M653.6 845 L683.3 845 L680.4 856.9 L671.4 865.8 L659.5 856.9 Z"/><path fill="#e48066" d="M736.9 845 L760.7 845 L757.7 859.9 L748.8 859.9 Z"/><path fill="#f8bfa4" d="M647.6 987.9 L655.1 983.4 L662.5 993.8 L661 1004.2 L653.6 999.8 Z"/><path fill="#f8bfa4" d="M614.9 932.8 L619.3 929.8 L626.8 940.2 L622.3 943.2 Z"/><path fill="#f8bfa4" d="M836.6 1005.7 L844 996.8 L850 1002.7 L856 1014.6 L841.1 1023.6 Z"/><path fill="#c43b3c" d="M858.9 976 L861.9 973 L865.5 976.5 L861.9 979.5 Z"/><path fill="#c43b3c" d="M620.8 983.4 L625.3 979.5 L628.3 984.9 L623.8 987.3 Z"/><path fill="#f8bfa4" d="M510.7 883.7 L522.6 871.8 L543.5 862.9 L552.4 868.8 L555.4 886.7 L561.3 898.6 L576.2 904.5 L582.1 913.5 L588.1 934.3 L600 946.2 L606 958.1 L611.9 970 L606 976 L594 973 L582.1 964 L570.2 958.1 L564.3 949.2 L564.3 934.3 L558.3 916.4 L546.4 907.5 L531.5 904.5 L519.6 898.6 Z"/><path fill="#f7f6f6" d="M528.6 886.7 L534.5 877.7 L543.5 879.2 L547.9 888.2 L540.5 895.6 L531.5 894.1 Z"/><path fill="#f8bfa4" d="M475 845 L519.6 845 L522.6 851 L504.8 856.9 L498.8 871.8 L486.9 871.8 L481 862.9 L475 862.9 Z"/><path fill="#c43b3c" d="M492.9 946.2 L498.8 931.3 L507.7 916.4 L513.7 909 L519.6 919.4 L525.6 925.4 L540.5 922.4 L549.4 919.4 L552.4 928.3 L546.4 934.3 L555.4 937.3 L558.3 943.2 L543.5 946.2 L534.5 946.2 L528.6 961.1 L522.6 970 L510.7 976 L501.8 970 L495.8 958.1 Z"/><path fill="#c43b3c" d="M547.9 973 L555.4 967 L564.3 976 L573.2 978.9 L577.7 993.8 L576.2 1005.7 L564.3 1023.6 L546.4 1023.6 L540.5 1005.7 L552.4 999.8 Z"/><path fill="#c43b3c" d="M522.6 990.8 L528.6 984.9 L540.5 993.8 L537.5 1005.7 L525.6 1002.7 Z"/><path fill="#c43b3c" d="M561.3 877.7 L567.3 871.2 L577.7 873.3 L580.7 882.2 L573.2 889.6 L564.3 886.7 Z"/><path fill="#c43b3c" d="M475 889.6 L483.9 886.7 L486.9 901.5 L482.4 907.5 L475 906 Z"/><path fill="#c43b3c" d="M475 996.8 L481 995.3 L483.9 1023.6 L475 1023.6 Z"/><path fill="#c43b3c" d="M542 949.2 L547.9 943.2 L553.9 950.7 L549.4 955.1 Z"/></g><g clip-path="url(#c_B3)"><rect x="875" y="895" width="385" height="140" fill="#e48066"/><path fill="#c43b3c" d="M974 961.1 L977 940.2 L986 931.3 L986 917.9 L1009.8 913.5 L1015.7 907.5 L1033.6 909 L1063.3 910.5 L1072.3 925.4 L1078.2 943.2 L1072.3 955.1 L1063.3 958.1 L1048.5 964 L1036.5 970 L1024.6 974.5 L1009.8 970 L1000.8 962.6 L980 964 Z"/><path fill="#f8bfa4" d="M1182.4 993.8 L1188.3 980.4 L1203.2 967 L1227 953.6 L1233 953.6 L1233 999.8 L1215.1 1010.2 L1185.4 1010.2 Z"/><path fill="#f8bfa4" d="M965.1 889.6 L974 874.8 L986 862.9 L997.9 845 L1009.8 845 L1009.8 892.6 L994.9 885.2 L983 895.6 L974 900.1 Z"/><path fill="#f8bfa4" d="M1009.8 845 L1230 845 L1230 877.7 L1212.1 874.8 L1200.2 871.8 L1185.4 868.8 L1170.5 873.3 L1152.6 874.8 L1122.9 876.2 L1093.1 874.8 L1081.2 871.8 L1063.3 865.8 L1048.5 877.7 L1039.5 874.8 L1027.6 871.8 L1015.7 871.8 L1009.8 880.7 Z"/><path fill="#f8bfa4" d="M1212.1 889.6 L1227 886.7 L1227 901.5 L1221.1 900.1 Z"/></g><g clip-path="url(#c_B1)"><rect x="90" y="780" width="200" height="255" fill="#e48066"/><rect x="290" y="960" width="185" height="75" fill="#e48066"/><path fill="#c43b3c" d="M112.9 780 L285.5 780 L292.9 797.9 L291.4 812.7 L303.3 824.6 L285.5 832.1 L261.7 839.5 L240.8 848.5 L228.9 848.5 L199.2 851.4 L193.2 857.4 L202.1 869.3 L208.1 878.2 L226 887.1 L228.9 899 L217 911 L214 925.8 L205.1 931.8 L184.3 925.8 L169.4 919.9 L160.5 911 L154.5 893.1 L139.6 890.1 L124.8 884.2 L106.9 881.2 L106.9 780 Z"/><path fill="#e48066" d="M145.6 783 L163.5 780 L184.3 780 L181.3 797.9 L175.4 812.7 L169.4 809.8 L166.4 797.9 L154.5 791.9 Z"/><path fill="#e48066" d="M164.9 866.3 L175.4 857.4 L184.3 863.3 L193.2 881.2 L190.2 890.1 L178.3 890.1 L169.4 881.2 Z"/><path fill="#c43b3c" d="M230.4 860.4 L234.9 855.9 L237.3 869.3 L233.4 878.2 L230.4 872.3 Z"/><path fill="#c43b3c" d="M163.5 1000.2 L178.3 988.3 L196.2 982.4 L214 979.4 L220 988.3 L214 1015.1 L163.5 1015.1 Z"/><path fill="#f8bfa4" d="M103.8 938.9 L124.4 938.9 L128.1 946.4 L122.5 953.9 L137.5 972.6 L152.5 968.9 L161.9 953.9 L171.3 950.1 L173.2 957.6 L188.2 965.1 L201.3 957.6 L208.8 972.6 L201.3 976.4 L180.7 972.6 L165.7 980.1 L156.3 995.1 L154.4 1013.9 L103.8 1013.9 Z"/><path fill="#f7f6f6" d="M101 964.5 L115.8 964.5 L123.3 973.5 L123.3 985.4 L112.9 991.3 L101 991.3 Z"/><path fill="#c43b3c" d="M151.5 934.8 L156 930.3 L162.9 935.4 L157.5 940.7 Z"/><path fill="#c43b3c" d="M273.6 1015.1 L282.5 988.3 L288.5 970.5 L291.4 955.6 L297.4 958.6 L300.4 973.5 L306.3 988.3 L297.4 1000.2 L288.5 1015.1 Z"/><path fill="#c43b3c" d="M318.2 976.4 L330.1 963 L343.5 970.5 L342 982.4 L327.1 985.4 Z"/><path fill="#c43b3c" d="M313.8 1000.2 L327.1 988.3 L333.1 994.3 L330.1 1015.1 L318.2 1015.1 Z"/><path fill="#c43b3c" d="M368.8 988.3 L380.7 973.5 L392.6 961.5 L398.6 946.7 L389.6 934.8 L388.2 919.9 L395.6 912.4 L407.5 916.9 L412 928.8 L428.3 937.7 L446.2 928.8 L452.1 940.7 L461.1 946.7 L458.1 958.6 L452.1 970.5 L464 985.4 L470 994.3 L481.9 997.3 L484.9 1015.1 L362.9 1015.1 L368.8 1006.2 Z"/><path fill="#f8bfa4" d="M251.2 967.5 L257.2 955.6 L266.1 957.1 L269.1 970.5 L264.6 982.4 L255.7 983.9 Z"/><path fill="#f8bfa4" d="M456.6 952.6 L467 945.2 L478.9 946.7 L481.9 958.6 L467 964.5 Z"/></g><g clip-path="url(#c_Z4)"><rect x="290" y="780" width="185" height="180" fill="#e48066"/><path fill="#f8bfa4" d="M290 855 L302.5 847.2 L310.3 826.9 L318.1 815.9 L330.6 812.8 L341.6 798.8 L346.2 789.4 L355.6 792.5 L363.4 801.9 L368.1 809.7 L358.8 815.9 L357.2 826.9 L357.2 845.6 L354.1 864.4 L352.5 873.8 L355.6 889.4 L329.1 889.4 L333.8 867.5 L330.6 853.4 L321.2 850.3 L318.1 873.8 L316.6 881.6 L299.4 873.8 L290 870.6 Z"/><path fill="#e48066" d="M318.1 851.9 L341.6 848.8 L340 853.4 L330.6 858.1 L331.4 867.5 L329.1 881.6 L321.2 883.1 L318.9 870.6 Z"/><path fill="#f7f6f6" d="M305.6 842.5 L311.9 826.9 L318.1 823.8 L327.5 826.9 L330.6 831.6 L333.8 825.3 L341.6 817.5 L348.6 817.5 L347.8 825.3 L341.6 830 L332.2 837.8 L324.4 839.4 L318.1 840.9 L313.4 844.1 L308.8 847.2 Z"/><path fill="#f8bfa4" d="M344.7 789.4 L355.6 795.6 L363.4 803.4 L360.3 814.4 L358.8 822.2 L358.8 833.1 L363.4 842.5 L377.5 842.5 L390 837.8 L393.1 826.9 L394.7 815.9 L397.8 806.6 L394.7 795.6 L397.8 789.4 L415 789.4 L418.1 798.8 L411.9 809.7 L405.6 815.9 L400.9 825.3 L396.2 834.7 L390 845.6 L380.6 855 L368.1 861.2 L358.8 865.2 L354.1 861.2 L350.9 850.3 L349.4 826.9 L346.2 811.2 L343.1 798.8 Z"/><path fill="#e48066" d="M360.3 811.2 L368.1 806.6 L377.5 797.2 L386.9 795.6 L394.7 797.2 L393.1 808.1 L390 820.6 L386.9 833.1 L380.6 839.4 L365 839.4 L358.8 831.6 L358.8 819.1 Z"/><path fill="#f8bfa4" d="M310.3 905 L318.1 898.8 L329.1 892.5 L341.6 890.9 L349.4 892.5 L352.5 898.8 L349.4 909.7 L344.7 915.9 L340 925.3 L332.2 931.6 L321.2 936.2 L308.8 945.6 L304.1 942.5 L307.2 933.1 L313.4 923.8 L311.9 914.4 Z"/><path fill="#f7f6f6" d="M317.3 908.1 L319.7 901.9 L327.5 903.4 L335.3 908.1 L340 909.7 L336.9 920.6 L332.2 928.4 L325.9 920.6 L319.7 917.5 Z"/><path fill="#f8bfa4" d="M355.6 873.8 L365 875.3 L377.5 878.4 L377.5 892.5 L379.1 905 L377.5 915.9 L371.2 922.2 L366.6 930 L368.1 936.2 L358.8 936.2 L357.2 925.3 L361.9 914.4 L358.8 898.8 L355.6 889.4 Z"/><path fill="#f8bfa4" d="M383.8 889.4 L390 883.1 L399.4 880 L408.8 876.9 L413.4 884.7 L411.9 898.8 L399.4 901.9 L390 898.8 L383.8 895.6 Z"/><path fill="#c43b3c" d="M377.5 869.1 L386.9 864.4 L396.2 853.4 L402.5 845.6 L407.2 840.9 L411.9 848.8 L413.4 861.2 L415 873.8 L408.8 876.9 L399.4 873.8 L390 876.9 L383.8 875.3 Z"/><path fill="#c43b3c" d="M388.4 917.5 L396.2 912.8 L405.6 915.9 L411.9 923.8 L411.9 942.5 L421.2 945.6 L446.2 948.8 L461.9 936.2 L475 936.2 L475 961.2 L390 961.2 L388.4 936.2 Z"/><path fill="#c43b3c" d="M382.2 940.9 L385.3 936.2 L390 940.9 L386.9 945.6 Z"/><path fill="#f8bfa4" d="M413.4 831.6 L430.6 830 L440 826.9 L452.5 828.4 L461.9 839.4 L475.9 847.2 L481.4 847.2 L481.4 936.2 L411.9 936.2 L411.9 831.6 Z"/><path fill="#e48066" d="M419.7 842.5 L446.2 839.4 L465 851.9 L471.2 867.5 L468.1 886.2 L458.8 895.6 L446.2 889.4 L438.4 887.8 L429.1 889.4 L418.1 892.5 L415 876.9 L415 853.4 Z"/><path fill="#c43b3c" d="M430.6 845.6 L446.2 842.5 L458.8 848.8 L465 859.7 L463.4 880 L457.2 876.9 L452.5 870.6 L444.7 867.5 L438.4 870.6 L435.3 878.4 L427.5 881.6 L422.8 873.8 L421.2 864.4 L427.5 859.7 Z"/><path fill="#f8bfa4" d="M438.4 873.8 L443.1 869.1 L449.4 870.6 L452.5 880 L447.8 883.1 L443.1 880 Z"/><path fill="#e48066" d="M411.9 928.4 L430.6 926.9 L438.4 923.8 L446.2 930 L455.6 926.9 L469.7 930 L477.5 936.2 L411.9 936.2 Z"/><path fill="#c43b3c" d="M438.4 936.2 L446.2 926.9 L450.9 933.1 L471.2 937.8 L461.9 942.5 L438.4 942.5 Z"/><path fill="#c43b3c" d="M290 790.9 L294.7 789.4 L299.4 798.8 L294.7 801.9 L290 800.3 Z"/><path fill="#c43b3c" d="M290 822.2 L297.8 822.2 L299.4 830 L293.1 836.2 L290 836.2 Z"/><path fill="#c43b3c" d="M425.2 789.4 L429.1 783.1 L433 789.4 L432.2 803.4 L427.5 808.1 L425.2 798.8 Z"/><path fill="#f8bfa4" d="M435.3 826.9 L438.4 811.2 L446.2 800.3 L452.5 808.1 L455.6 826.9 Z"/><path fill="#f8bfa4" d="M311.9 808.1 L315 804.2 L318.1 808.9 L315 812 Z"/><path fill="#f8bfa4" d="M375.2 801.9 L380.6 797.2 L382.2 803.4 L377.5 805 Z"/></g><g clip-path="url(#c_Z4b)"><rect x="330" y="570" width="145" height="150" fill="#c43b3c"/><path fill="#e48066" d="M330 603 L340.1 603 L351.5 598 L352.8 585.3 L347.7 580.3 L346.5 573.9 L351.5 569.5 L360.4 570.1 L364.2 575.2 L362.3 591.6 L374.3 604.3 L381.9 598 L387 598 L389.5 610.6 L399.6 620.8 L412.3 625.8 L412.3 638.5 L405.9 646.1 L398.4 649.9 L402.2 658.7 L394.6 663.8 L389.5 668.9 L378.1 673.9 L368 684.1 L373 696.7 L385.7 710.6 L400.9 708.1 L411 699.2 L421.1 696.7 L431.3 687.8 L436.3 677.7 L443.9 680.3 L451.5 699.2 L461.6 720.1 L330 720.1 Z"/><path fill="#c43b3c" d="M375.6 652.4 L378.1 648.6 L380.6 653.7 L379.4 661.3 L376.2 660 Z"/><path fill="#c43b3c" d="M378.7 606.8 L380.6 603.7 L381.9 609.4 L380 610 Z"/><path fill="#c43b3c" d="M363.5 708.1 L366.7 707.5 L367.3 714.4 L364.8 718.2 Z"/><path fill="#f8bfa4" d="M330 646.1 L337.6 643.5 L346.5 641 L347.7 646.1 L342.7 656.2 L341.4 671.4 L337.6 677.7 L330 677.7 Z"/><path fill="#f8bfa4" d="M433.2 711.9 L438.9 708.1 L443.9 710.6 L443.3 720.1 L435.1 720.1 Z"/><path fill="#e48066" d="M421.1 560 L430 560 L428.7 567.6 L424.9 563.8 Z"/><path fill="#e48066" d="M452.8 560 L500.1 560 L500.1 610.6 L494.6 601.8 L487 598 L481.9 587.8 L479.4 576.5 L469.2 570.1 L454.1 568.9 Z"/><path fill="#e48066" d="M417.3 609.4 L426.2 603 L433.8 599.2 L440.1 604.3 L446.5 611.9 L441.4 619.5 L431.3 625.8 L426.2 624.6 L421.1 618.2 Z"/><path fill="#e48066" d="M448.4 652.4 L451.3 648.6 L454.3 653 L451.3 656.2 Z"/><path fill="#e48066" d="M429.4 668.9 L431.3 666.3 L436.3 672.7 L433.8 676.5 Z"/><path fill="#e48066" d="M474.3 695.4 L481.9 691.6 L489.5 681.5 L497.1 673.9 L500.1 673.9 L500.1 700.5 L481.9 699.2 Z"/><path fill="#e48066" d="M330 567.6 L336.3 572.7 L335.1 581.5 L330 585.3 Z"/></g><g clip-path="url(#c_Z5)"><rect x="600" y="480" width="200" height="160" fill="#c43b3c"/><path fill="#e48066" d="M608.9 480 L674.4 480 L680.4 488.9 L683.3 496.4 L690.8 497.9 L691.5 508.3 L692.3 524.6 L689.3 536.5 L684.8 545.5 L689.3 549.9 L696.7 547.7 L702.7 541 L704.2 539.5 L713.1 536.5 L719 536.5 L723.5 542.5 L723.5 551.4 L719 557.4 L710.1 563.3 L704.2 569.3 L698.2 581.2 L696.7 593.1 L702.7 596.1 L695.2 608 L695.2 628.8 L701.2 640.7 L677.4 640.7 L674.4 628.8 L675.9 621.4 L667 606.5 L656.5 596.1 L653.6 590.1 L661 578.2 L656.5 569.3 L649.1 557.4 L643.2 545.5 L637.2 536.5 L644.6 524.6 L643.2 518.7 L634.2 521.7 L623.8 530.6 L616.4 527.6 L622.3 517.2 L625.3 506.8 L622.3 494.9 L614.9 487.4 Z"/><path fill="#e48066" d="M692.3 488.9 L704.2 484.5 L710.1 487.4 L719 496.4 L723.5 506.8 L731 518.7 L732.4 529.1 L728 538 L722 536.5 L716.1 536.5 L710.1 539.5 L704.2 544 L698.2 547 L692.3 542.5 Z"/><path fill="#f8bfa4" d="M655.1 518.7 L662.5 511.2 L671.4 508.3 L680.4 508.3 L689.3 518.7 L695.2 524.6 L692.3 533.6 L689.3 539.5 L684.8 545.5 L690.8 548.5 L698.2 547 L704.2 544 L710.1 545.5 L713.1 552.9 L710.1 558.9 L704.2 563.3 L698.2 570.8 L692.3 584.2 L686.3 575.2 L677.4 569.3 L668.5 563.3 L659.5 554.4 L650.6 542.5 L649.1 536.5 L656.5 535.1 L662.5 539.5 L671.4 538 L680.4 535.1 L669.9 529.1 L659.5 523.2 Z"/><path fill="#f7f6f6" d="M667.7 528.4 L669.9 526.1 L674.4 529.1 L669.9 530.6 Z"/><path fill="#f7f6f6" d="M679.6 553.7 L686.3 553.2 L686 555.1 L680.1 555.3 Z"/><path fill="#c43b3c" d="M696.7 537.3 L699.7 535.8 L703 537.3 L699.7 539.1 Z"/><path fill="#c43b3c" d="M706.4 546.2 L708.3 544 L710.9 547.7 L707.9 548.8 Z"/><path fill="#c43b3c" d="M635 512 L637.2 509.8 L639 512.7 L636.9 514.5 Z"/><path fill="#f8bfa4" d="M707.1 529.9 L710.9 527.9 L713.8 529.9 L709.4 532.4 Z"/><path fill="#e48066" d="M725 569.3 L731 557.4 L731 544 L738.4 538 L745.8 542.5 L748.8 548.5 L748.8 566.3 L753.3 572.3 L760.7 582.7 L766.7 590.1 L766.7 594.6 L733.9 594.6 L735.4 584.2 L729.5 575.2 Z"/><path fill="#f8bfa4" d="M733.9 563.3 L739.9 554.4 L741.4 557.4 L739.9 569.3 L734.7 570.8 Z"/><path fill="#c43b3c" d="M719 587.9 L721.3 585.7 L723.5 587.9 L721.3 590.1 Z"/><path fill="#e48066" d="M702.7 596.1 L713.1 596.1 L719 602 L733.9 596.1 L748.8 596.1 L748.8 613.9 L750.3 640.7 L736.9 640.7 L745.8 628.8 L738.4 622.9 L731 615.4 L722 611 L714.6 611 L710.1 621.4 L704.2 613.9 L702.7 608 Z"/><path fill="#e48066" d="M748.8 596.1 L780.1 596.1 L771.1 602 L766.7 611 L763.7 621.4 L760.7 640.7 L748.8 640.7 Z"/><path fill="#e48066" d="M783 611 L786 608 L793.5 619.9 L792 622.1 Z"/><path fill="#c43b3c" d="M736.9 603.5 L739.9 600.5 L743.2 604.3 L739.9 606.8 Z"/><path fill="#e48066" d="M600 603.5 L606 596.1 L616.4 587.1 L623.8 572.3 L629.8 599 L638.7 603.5 L649.1 603.5 L646.1 621.4 L640.2 640.7 L600 640.7 Z"/></g></g>
<g clip-path="url(#fr)">
<g fill="none" stroke="#808080" stroke-width="1.5"><g clip-path="url(#cx)"><path d="M129.5 361.1 L376.4 369.8 L438.9 371.9 L438.9 431.5"/><path d="M399.2 215.7 L399.2 294.3 L389.8 295.1 L379.8 305 L376.8 369.8"/><path d="M394.9 397.8 L438.9 397.8"/><path d="M394.9 397.8 L394.9 432.4 L375.5 432.4 L375.5 447.5 L296.5 448.8 L296.5 473.4 L199.9 471.2 L199.9 479.8 L146.8 477.7 L123.1 475.5"/><path d="M425.1 432.4 L500.7 432.4 L558.9 434.5"/><path d="M500.7 350.4 L500.7 432.4"/><path d="M468.3 216.6 L474.8 229.5 L496.3 242.5 L500.7 259.7 L494.2 289.9 L496.3 324.5 L500.7 350.4"/><path d="M571.9 218.7 L582.7 246.8 L599.9 268.4 L612.9 302.9 L621.5 320.2 L630.1 324.5 L647.4 359 L656 376.3 L653.9 410.8 L647.4 430.2 L675 432.4"/><path d="M500.7 341.7 L526.6 337.4 L548.1 348.2 L569.7 350.4 L591.3 348.2 L608.6 341.7 L617.2 324.5"/><path d="M530.9 432.4 L556.8 436.7 L569.7 453.9 L591.3 479.8 L612.9 482 L630.1 494.9"/><path d="M423 434.5 L423 479.8"/><path d="M120.9 533.9 L371.2 543.9 L530.9 546.9 L578.3 544.7"/><path d="M423 480 L423 543.9"/><path d="M371.2 543.9 L379.8 562 L392.8 592.2 L429.5 594.4 L440.2 605.2 L461.8 620.3 L483.4 609.5 L502.8 615.9 L517.9 628.9 L543.8 641.8 L530.9 661.3 L526.6 678.5 L543.8 708.7 L556.8 734.6"/><path d="M530.9 546.9 L517.9 562 L509.3 596.5 L502.8 608.6 L565.4 608.6"/><path d="M565.4 544.7 L569.7 562 L565.4 609.5 L582.7 631 L604.2 644 L612.9 674.2 L604.2 682.8 L675 682.8"/><path d="M612.9 674.2 L612.9 713 L591.3 730.3 L582.7 736.8 L435.9 734.6 L435.1 825.2"/><path d="M591.3 730.3 L612.9 747.6 L630.1 769.1 L675 770"/><path d="M612.9 747.6 L643.1 782.1 L660.3 816.6 L675 838.2"/><path d="M565.4 480 L561.1 514.5 L578.3 544.7"/><path d="M608.6 480 L630.1 497.3 L612.9 518.8 L595.6 544.7"/><path d="M625.8 506.8 L675 506.8"/><path d="M371.2 566.3 L362.6 572.8 L358.2 756.2 L336.7 749.7 L256.8 748.4 L261.1 762.7 L284.9 773.5 L289.2 790.7 L293.5 808 L310.8 825.2 L315.1 833.9 L336.7 825.2 L349.6 812.3 L345.3 788.6 L343.1 773.5 L336.7 756.2"/><path d="M220.2 646.1 L280.6 605.2 L306.5 598.7 L323.7 605.2 L353.9 574.9 L371.2 566.3"/><path d="M220.2 646.1 L220.2 712.2 L120.9 707.9"/><path d="M220.2 679.4 L358.2 682.8"/><path d="M112.3 777.8 L284.9 784.2"/><path d="M345.3 788.6 L433.8 789.9"/><path d="M107.9 833 L144.6 831.7 L228.8 836 L241.7 849 L267.6 844.7 L284.9 851.1 L297.8 864.1 L284.9 872.7 L276.3 885.7 L267.6 907.2 L259 928.8 L241.7 943.9 L224.5 963.3 L215.8 997.9 L209.4 1015.1"/><path d="M297.8 864.1 L315.1 842.5 L315.1 825.2"/><path d="M349.6 816.6 L349.6 842.5 L358.2 859.8 L356.1 1023.8"/><path d="M125.2 884.8 L353.9 890"/><path d="M125.2 884.8 L107.9 911.6"/><path d="M412.2 831.7 L435.9 827.4 L453.2 829.6 L483.4 846.8 L481.2 941.8 L412.2 941.8 L412.2 831.7"/><path d="M353.9 934 L412.2 935.3"/><path d="M483.4 855.5 L498.5 855.5 L500.7 872.7 L587 873.6 L675 873.6"/><path d="M587 873.6 L587 952.6 L634.4 952.6 L675 911.6"/><path d="M481.2 941.8 L587 942.6"/><path d="M483.4 941.8 L483.4 976.3 L496.3 984.9 L513.6 1023.8"/><path d="M634.4 952.6 L638.8 976.3 L634.4 997.9 L630.1 1023.8"/><path d="M762.3 220 L762.3 349.1 L745 349.1 L745 507.9"/><path d="M660 366.8 L745 366.8"/><path d="M745 419.4 L990.1 417.3"/><path d="M885.3 313.7 L990.1 312.4 L991.4 417.3"/><path d="M885.3 313.7 L885.3 419.4"/><path d="M972 218.7 L972 312.4"/><path d="M1113.1 215.7 L1114.4 326.6"/><path d="M1114.4 263.2 L1204.6 261"/><path d="M990.1 330.1 L1095.9 327.9 L1207.2 323.6"/><path d="M1095.9 327.9 L1096.7 502.3"/><path d="M954.8 419.4 L954.8 471.2 L955.6 505.7"/><path d="M770 472.5 L954.8 471.2"/><path d="M745 506.6 L1041.9 504.9 L1212.4 499.2"/><path d="M691.1 434.5 L745 436.7"/><path d="M691.1 434.5 L691.1 596.3"/><path d="M729 441 L746.3 428 L759.3 412.9 L760.1 419.4 L746.3 430.2"/><path d="M737.7 492.8 L774.4 492.8 L772.2 475.5 L793.8 458.2 L798.1 441 L815.4 441 L813.2 456.1 L789.5 462.6 L774.4 475.5"/><path d="M660 432.4 L691.1 434.5"/><path d="M660 505.7 L691.1 506.6 L745 507.9"/><path d="M745 507.9 L735.5 527.3 L724.7 553.2 L703.2 587.7 L701 682.7"/><path d="M691.1 596.3 L806.7 595.5 L806.7 507.9"/><path d="M806.7 595.5 L902.5 595.5 L903.8 647.3 L955.6 647.3 L954.8 505.7"/><path d="M903.8 647.3 L903.8 750"/><path d="M1041.9 504.9 L1043.2 611.5 L1043.2 712.9"/><path d="M1043.2 611.5 L1215.8 604.1"/><path d="M1043.2 696.5 L1216.7 691.3"/><path d="M763.6 718 L1043.2 712.9"/><path d="M990.1 715 L990.1 750"/><path d="M748.5 595.5 L748.5 648.1 L742.9 648.1 L742.9 661.9 L763.6 663.2 L763.6 750"/><path d="M701 682.7 L716.1 682.7 L716.1 691.3 L763.6 691.3"/><path d="M903.8 750.2 L903.8 894.3"/><path d="M762.7 750.2 L762.7 770 L660 770"/><path d="M991.4 768.3 L1221 761.4"/><path d="M990.1 750.2 L991.4 786.4 L975 787.3 L974.2 798.5 L903.8 798.5"/><path d="M1008.7 768.3 L1009.6 892.1"/><path d="M1113.1 765.7 L1115.3 890"/><path d="M903.8 894.3 L1226.2 887"/><path d="M1062.6 893.4 L1063.5 1023.8"/><path d="M746.3 770 L746.3 846.8"/><path d="M748.5 846.8 L813.2 844.7 L903.8 874.9"/><path d="M813.2 844.7 L858.5 859.8 L841.3 870.6 L824 898.6 L802.4 933.1 L767.9 946.1 L733.4 963.3 L729 1023.8"/><path d="M660 825.2 L677.3 842.5 L705.3 833.9 L724.7 820.9 L746.3 846.8"/><path d="M677.3 842.5 L681.6 868.4 L677.3 902.9 L672.9 911.6"/><path d="M681.6 894.3 L707.5 892.1 L724.7 902.9 L726.9 937.4 L729 963.3"/><path d="M309 100 L309 130 L308 209"/><path d="M591.5 100 L591.5 113"/><path d="M552 207 L552 216"/><path d="M711 100 L711 113"/><path d="M711 207 L711 218"/><path d="M807 103.5 L897 103.5"/><path d="M1001 100 L1001 215"/><path d="M968 137 L1001 137"/><path d="M1001 127.5 L1112 125"/><path d="M1112 100 L1112 131 L1118 134 L1118 212.5"/><path d="M1118 168.5 L1202 166"/><path d="M1212 100 L1212 130"/><path d="M1202 131 L1325 127.5"/><path d="M1202 131 L1205 211"/><path d="M1299.5 100 L1299.5 127"/><path d="M1206 210 L1325 206"/><path d="M1208 271.8 L1325 266.9"/><path d="M1315.6 268 L1319 337 L1324 409"/><path d="M1211 342 L1325 337"/><path d="M1310 410 L1313 495"/><path d="M1215 499.6 L1325 495"/><path d="M1317 495 L1320 581"/><path d="M1218 586.7 L1325 582"/><path d="M1307 582 L1309 670"/><path d="M1221.6 675 L1325 671.3"/><path d="M1296 671 L1300 759.6"/><path d="M1225 762 L1325 758.5"/><path d="M1303.6 759 L1306 846.7 L1308 847 L1311 865"/><path d="M1229 868.8 L1325 865"/><path d="M1311 865 L1313.5 935"/><path d="M1232 938.6 L1325 935"/><path d="M1308 935 L1311 1014"/><path d="M1234.4 1016 L1238 1115"/><path d="M1216 1120.6 L1217 1135"/><path d="M1304 1118 L1305 1135"/><path d="M21 243 L25.5 239 L30 241 L36.8 241.4 L43.5 237.7 L51 237 L52 234 L60.8 236 L61 242 L61 249.7 L65.6 254 L68.3 250.4 L73.6 250 L73.6 246 L80.3 243.7 L80.3 230 L110.4 231.6 L110.4 246.7 L115.6 246.7 L115.6 267.7 L120 267.7 L120 272 L130.6 272"/><path d="M21 509.5 L114 514 L119 504.6 L125 504"/><path d="M21 702.7 L111 707.7 L118 708"/><path d="M358 1020 L357 1038.5"/><path d="M592 1023.6 L593 1041"/><path d="M600.5 1125 L601 1135"/><path d="M718.7 1027 L718 1050 L707.6 1079 L700 1085 L692.7 1094 L693 1115 L700 1128 L700 1135"/><path d="M914.4 1026 L915 1135"/><path d="M326 1125 L326 1135"/></g><g clip-path="url(#ci)"><path d="M564.5 440 L573.4 448.9 L584.6 453.4 L591.2 475.7 L611.3 479.1 L615.8 462.3 L644.8 453.4 L664.9 457.9 L671.6 466.8 L691.7 470.1"/><path d="M611.3 479.1 L624.7 491.3 L631.4 498 L620.3 513.7 L609.1 529.3 L593.5 547.1 L573.4 544.9 L557.8 543.8"/><path d="M573.4 544.9 L568.9 556.1 L568.9 596.2 L566.7 605.2 L573.4 618.6 L586.8 632 L606.9 645.4 L609.1 663.2 L602.4 683.3 L611.3 701.2"/><path d="M624.7 507 L691.7 507"/><path d="M691.7 437.8 L691.7 596.2 L745.3 596.2 L861.3 595.1"/><path d="M745.3 437.8 L745.3 507 L734.1 524.8 L725.2 544.9 L714 573.9 L702.9 594 L702.9 683.3 L602.4 683.3"/><path d="M702.9 683.3 L716.2 683.3 L716.2 692.2 L763.1 692.2 L763.1 663.2 L743 662.1 L743 648.7 L749.7 647.6 L749.7 596.2"/><path d="M745.3 507 L861.3 507"/><path d="M806.7 507 L806.7 595.1"/><path d="M745.3 462.3 L772.1 461.2 L796.6 457.9 L814.5 437.8"/><path d="M772.1 472.4 L861.3 472.4"/><path d="M557.8 482.4 L570 493.6 L562.2 511.4"/></g></g>
<g fill="none" stroke="#000" stroke-width="3" stroke-linejoin="round"><path d="M-237.2 182.4 L-212.8 184.1 L-188.4 185.8 L-164 187.5 L-139.6 189.1 L-115.3 190.7 L-90.9 192.2 L-66.5 193.7 L-42.1 195.2 L-17.7 196.6 L6.7 198 L31.1 199.3 L55.5 200.5 L80 201.8 L104.4 203 L128.8 204.1 L153.2 205.2 L177.6 206.2 L202 207.3 L226.5 208.2 L250.9 209.1 L275.3 210 L299.7 210.8 L324.2 211.6 L348.6 212.4 L373 213.1 L397.4 213.7 L421.9 214.3 L446.3 214.9 L470.7 215.4 L495.2 215.9 L519.6 216.3 L544.1 216.7 L568.5 217.1 L592.9 217.4 L617.4 217.6 L641.8 217.8 L666.3 218 L690.7 218.1 L715.1 218.2 L739.6 218.2 L764 218.2 L788.5 218.2 L812.9 218.1 L837.3 217.9 L861.8 217.7 L886.2 217.5 L910.6 217.2 L935.1 216.9 L959.5 216.6 L984 216.2 L1008.4 215.7 L1032.8 215.2 L1057.3 214.7 L1081.7 214.1 L1106.1 213.4 L1130.6 212.8 L1155 212.1 L1179.4 211.3 L1203.8 210.5"/><path d="M-296.1 989.3 L-270.7 991.1 L-245.3 992.9 L-219.9 994.6 L-194.5 996.3 L-169 998 L-143.6 999.6 L-118.2 1001.2 L-92.8 1002.7 L-67.3 1004.1 L-41.9 1005.6 L-16.5 1007 L9 1008.3 L34.4 1009.6 L59.9 1010.8 L85.3 1012 L110.7 1013.2 L136.2 1014.3 L161.6 1015.4 L187.1 1016.4 L212.5 1017.3 L238 1018.3 L263.5 1019.2 L288.9 1020 L314.4 1020.8 L339.8 1021.5 L365.3 1022.2 L390.8 1022.9 L416.2 1023.5 L441.7 1024.1 L467.2 1024.6 L492.6 1025.1 L518.1 1025.5 L543.6 1025.9 L569.1 1026.2 L594.5 1026.5 L620 1026.7 L645.5 1027 L670.9 1027.1 L696.4 1027.2 L721.9 1027.3 L747.4 1027.3 L772.8 1027.3 L798.3 1027.2 L823.8 1027.1 L849.3 1026.9 L874.7 1026.7 L900.2 1026.5 L925.7 1026.2 L951.1 1025.8 L976.6 1025.5 L1002.1 1025 L1027.5 1024.5 L1053 1024 L1078.5 1023.5 L1103.9 1022.8 L1129.4 1022.2 L1154.9 1021.5 L1180.3 1020.7 L1205.8 1019.9 L1231.3 1019.1 L1239.6 1018.8 L1248 1018.5 L1256.3 1018.2 L1264.7 1017.9 L1273 1017.6 L1281.4 1017.3 L1289.7 1017 L1298.1 1016.7 L1306.5 1016.3 L1314.8 1016 L1323.2 1015.7 L1331.5 1015.3 L1339.9 1015 L1348.2 1014.7 L1356.6 1014.3 L1364.9 1013.9 L1373.3 1013.6 L1381.6 1013.2 L1390 1012.8 L1398.3 1012.5 L1406.7 1012.1 L1415 1011.7 L1423.4 1011.3 L1431.7 1010.9 L1440.1 1010.5 L1448.4 1010.1 L1456.8 1009.7 L1465.1 1009.3 L1473.5 1008.8 L1481.8 1008.4 L1490.2 1008 L1498.5 1007.5 L1506.9 1007.1 L1515.2 1006.6 L1523.6 1006.2 L1531.9 1005.7 L1540.3 1005.3 L1548.6 1004.8 L1557 1004.3 L1565.3 1003.9 L1573.7 1003.4 L1582 1002.9 L1590.4 1002.4 L1598.7 1001.9 L1607.1 1001.4 L1615.4 1000.9 L1623.8 1000.4 L1632.1 999.9 L1640.4 999.4 L1648.8 998.8 L1657.1 998.3 L1665.5 997.8 L1673.8 997.2 L1682.2 996.7 L1690.5 996.1 L1698.8 995.6 L1707.2 995 L1715.5 994.5 L1723.9 993.9"/><path d="M136 204.4 L134.8 230.3 L133.7 256.2 L132.5 282.1 L131.3 308 L130.2 333.9 L129 359.8 L127.8 385.7 L126.6 411.6 L125.5 437.5 L124.3 463.4 L123.1 489.3 L122 515.2 L120.8 541.1 L119.6 566.9 L118.4 592.8 L117.3 618.7 L116.1 644.6 L114.9 670.6 L113.7 696.5 L112.6 722.4 L111.4 748.3 L110.2 774.2 L109.1 800.1 L107.9 826 L106.7 851.9 L105.5 877.8 L104.4 903.8 L103.2 929.7 L102 955.6 L100.8 981.6 L99.7 1007.5 L98.5 1033.4 L97.3 1059.4 L96.1 1085.3 L95 1111.3 L93.8 1137.2 L92.6 1163.2 L91.4 1189.1 L90.3 1215.1"/><path d="M1203.8 210.5 L1204.6 231.2 L1205.3 251.9 L1206 272.7 L1206.7 293.4 L1207.4 314.1 L1208.1 334.8 L1208.8 355.6 L1209.5 376.3 L1210.2 397 L1210.9 417.7 L1211.6 438.5 L1212.3 459.2 L1213 479.9 L1213.7 500.6 L1214.4 521.4 L1215.1 542.1 L1215.8 562.8 L1216.5 583.5 L1217.2 604.3 L1217.9 625 L1218.6 645.7 L1219.3 666.5 L1220 687.2 L1220.7 707.9 L1221.4 728.7 L1222.1 749.4 L1222.8 770.1 L1223.5 790.9 L1224.2 811.6 L1224.9 832.3 L1225.6 853.1 L1226.3 873.8 L1227 894.6 L1227.7 915.3 L1228.4 936.1 L1229.1 956.8 L1229.8 977.6 L1230.6 998.3 L1231.3 1019.1"/><path d="M898.8 217.4 L898.5 194.9 L898.2 172.5 L898 150 L897.7 127.5 L897.5 105.1 L897.2 82.6 L897 60.1 L896.7 37.6 L896.5 15.2"/><path d="M1210.7 412.5 L1235.5 411.7 L1260.4 410.8 L1285.2 409.8 L1310.1 408.8 L1334.9 407.8 L1359.8 406.7 L1384.6 405.5 L1409.4 404.4 L1434.3 403.1 L1459.1 401.9 L1483.9 400.6 L1508.7 399.2 L1533.6 397.8 L1558.4 396.3 L1583.2 394.8 L1608 393.3 L1632.8 391.7 L1657.6 390.1 L1682.4 388.4"/><path d="M1077.7 1023.5 L1077.8 1028.5 L1077.9 1033.6 L1078 1038.7 L1078.1 1043.7 L1078.3 1048.8 L1078.4 1053.8 L1078.5 1058.9 L1078.6 1064 L1078.7 1069 L1078.8 1074.1 L1079 1079.2 L1079.1 1084.2 L1079.2 1089.3 L1079.3 1094.3 L1079.4 1099.4 L1079.5 1104.5 L1079.7 1109.5 L1079.8 1114.6 L1079.9 1119.7 L1080 1124.7 L1114.3 1123.9 L1148.6 1123 L1182.8 1122 L1217.1 1120.9 L1251.4 1119.7 L1285.7 1118.5 L1319.9 1117.2 L1354.2 1115.8 L1388.4 1114.3 L1422.7 1112.7 L1456.9 1111.1 L1491.2 1109.3 L1525.4 1107.5 L1559.7 1105.6 L1593.9 1103.7 L1628.1 1101.6 L1662.4 1099.5 L1696.6 1097.2 L1730.8 1094.9"/><path d="M1073.5 1124.9 L1074.1 1150.2 L1074.7 1175.5 L1075.2 1200.9 L1075.8 1226.2"/></g>
</g>
<rect x="19.5" y="100.8" width="1305.6" height="1034.1" fill="none" stroke="#000" stroke-width="2"/>
<rect x="378.5" y="112.4" width="589.3" height="95" fill="#fff" stroke="#000" stroke-width="2.6"/>
<text x="387" y="138.9" class="b1" textLength="569.5" lengthAdjust="spacingAndGlyphs">statewide departure from 1901-2000 avg: +2.4°F</text><text x="387" y="165.9" class="b1" textLength="569.5" lengthAdjust="spacingAndGlyphs">statewide departure from 1991-2020 avg: +1.3°F</text><text x="387" y="193" class="b1" textLength="495" lengthAdjust="spacingAndGlyphs">statewide rank: 6th warmest/125th coldest</text>
<rect x="31.4" y="1041.6" width="627.2" height="83.5" fill="#fff" stroke="#000" stroke-width="2.6"/>
<text x="39" y="1065.5" class="b2" textLength="586.3" lengthAdjust="spacingAndGlyphs">source: PRISM Climate Group, Oregon State University</text><text x="39" y="1088.6" class="b2" textLength="610" lengthAdjust="spacingAndGlyphs">map: Colorado Climate Center/Colorado State University</text><text x="39" y="1111.6" class="b2" textLength="334" lengthAdjust="spacingAndGlyphs">map generated 06 March 2025</text>
<text x="311.5" y="46.1" class="t" textLength="719.5" lengthAdjust="spacingAndGlyphs">temperature rank (preliminary PRISM data)</text><text x="333" y="83.7" class="t" textLength="677.5" lengthAdjust="spacingAndGlyphs">6 months ending August 2006 (Mar-Aug)</text><text x="272.5" y="1304.6" class="t" textLength="796.5" lengthAdjust="spacingAndGlyphs">temperature rank out of 130 years (1895-2024)</text>
<rect x="122.6" y="1147.7" width="157.7" height="39.8" fill="#327cb7"/><rect x="279.7" y="1147.7" width="157.7" height="39.8" fill="#6bacd1"/><rect x="436.7" y="1147.7" width="157.7" height="39.8" fill="#b1d5e7"/><rect x="593.8" y="1147.7" width="157.7" height="39.8" fill="#f7f6f6"/><rect x="750.8" y="1147.7" width="157.7" height="39.8" fill="#f8bfa4"/><rect x="907.9" y="1147.7" width="157.7" height="39.8" fill="#e48066"/><rect x="1064.9" y="1147.7" width="157.7" height="39.8" fill="#c43b3c"/><path fill="#053061" d="M123.1 1147.7 L67.3 1167.6 L123.1 1187.5 Z"/><path fill="#67001f" d="M1221.5 1147.7 L1276.5 1167.6 L1221.5 1187.5 Z"/><path fill="none" stroke="#000" stroke-width="2" stroke-linejoin="miter" d="M122.6 1147.7 L1222 1147.7 L1276.5 1167.6 L1222 1187.5 L122.6 1187.5 L67.3 1167.6 Z"/><path stroke="#000" stroke-width="2" d="M122.6 1187.5 V1197.5"/><text x="122.6" y="1228.8" text-anchor="middle" class="tk" textLength="89.5" lengthAdjust="spacingAndGlyphs">record</text><text x="122.6" y="1261" text-anchor="middle" class="tk" textLength="99.5" lengthAdjust="spacingAndGlyphs">coldest</text><path stroke="#000" stroke-width="2" d="M279.7 1187.5 V1197.5"/><text x="279.7" y="1228.8" text-anchor="middle" class="tk" textLength="62.5" lengthAdjust="spacingAndGlyphs">10th</text><text x="279.7" y="1261" text-anchor="middle" class="tk" textLength="99.5" lengthAdjust="spacingAndGlyphs">coldest</text><path stroke="#000" stroke-width="2" d="M436.7 1187.5 V1197.5"/><text x="436.7" y="1228.8" text-anchor="middle" class="tk" textLength="62.5" lengthAdjust="spacingAndGlyphs">20th</text><text x="436.7" y="1261" text-anchor="middle" class="tk" textLength="99.5" lengthAdjust="spacingAndGlyphs">coldest</text><path stroke="#000" stroke-width="2" d="M593.8 1187.5 V1197.5"/><text x="593.8" y="1228.8" text-anchor="middle" class="tk" textLength="62.5" lengthAdjust="spacingAndGlyphs">35th</text><text x="593.8" y="1261" text-anchor="middle" class="tk" textLength="99.5" lengthAdjust="spacingAndGlyphs">coldest</text><path stroke="#000" stroke-width="2" d="M750.8 1187.5 V1197.5"/><text x="750.8" y="1228.8" text-anchor="middle" class="tk" textLength="62.5" lengthAdjust="spacingAndGlyphs">35th</text><text x="750.8" y="1261" text-anchor="middle" class="tk" textLength="118.5" lengthAdjust="spacingAndGlyphs">warmest</text><path stroke="#000" stroke-width="2" d="M907.9 1187.5 V1197.5"/><text x="907.9" y="1228.8" text-anchor="middle" class="tk" textLength="62.5" lengthAdjust="spacingAndGlyphs">20th</text><text x="907.9" y="1261" text-anchor="middle" class="tk" textLength="118.5" lengthAdjust="spacingAndGlyphs">warmest</text><path stroke="#000" stroke-width="2" d="M1064.9 1187.5 V1197.5"/><text x="1064.9" y="1228.8" text-anchor="middle" class="tk" textLength="62.5" lengthAdjust="spacingAndGlyphs">10th</text><text x="1064.9" y="1261" text-anchor="middle" class="tk" textLength="118.5" lengthAdjust="spacingAndGlyphs">warmest</text><path stroke="#000" stroke-width="2" d="M1222 1187.5 V1197.5"/><text x="1222" y="1228.8" text-anchor="middle" class="tk" textLength="89.5" lengthAdjust="spacingAndGlyphs">record</text><text x="1222" y="1261" text-anchor="middle" class="tk" textLength="118.5" lengthAdjust="spacingAndGlyphs">warmest</text>
</svg>
</body></html>
